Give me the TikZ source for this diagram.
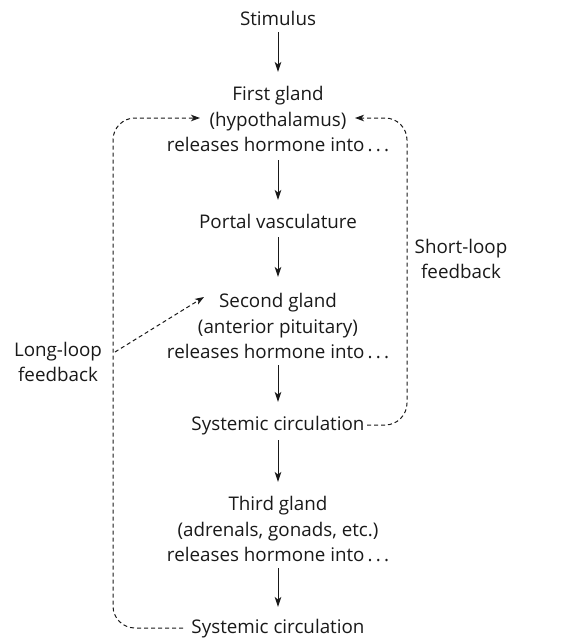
\documentclass[tikz,border=0pt]{standalone}
\usepackage{fontspec}
\setmainfont{Open Sans}
\usetikzlibrary{arrows.meta}
\begin{document}
\begin{tikzpicture}[x=1pt,y=-1pt,
  lbl/.style={align=center,inner sep=0pt,font=\fontsize{18.8}{25.5}\selectfont,text=black!90},
  arr/.style={draw=black!90,line width=1pt,-{Stealth[length=10pt,width=6.5pt,inset=2.5pt]}},
  fb/.style={draw=black!90,line width=1pt,dash pattern=on 4pt off 3pt,rounded corners=22pt},
  fbtip/.style={-{Stealth[length=9pt,width=6.5pt,inset=2.5pt]}}]
\useasboundingbox (0,0) rectangle (573,640);
\node[lbl] (stim) at (278,18) {Stimulus};
\node[lbl] (g1) at (278,119) {First gland\\(hypothalamus)\\releases hormone into\,.\,.\,.};
\node[lbl] (portal) at (278,221) {Portal vasculature};
\node[lbl] (g2) at (278,326) {Second gland\\(anterior pituitary)\\releases hormone into\,.\,.\,.};
\node[lbl] (sys1) at (278,426) {Systemic circulation};
\node[lbl] (g3) at (278,529) {Third gland\\(adrenals, gonads, etc.)\\releases hormone into\,.\,.\,.};
\node[lbl] (sys2) at (278,629) {Systemic circulation};
\node[lbl] (ll) at (58,362) {Long-loop\\feedback};
\node[lbl] (sl) at (461,259) {Short-loop\\feedback};

\coordinate (t1) at (278,32); \coordinate (h1) at (278,72);
\coordinate (t2) at (278,160); \coordinate (h2) at (278,200);
\coordinate (t3) at (278,237); \coordinate (h3) at (278,277);
\coordinate (t4) at (278,365); \coordinate (h4) at (278,402);
\coordinate (t5) at (278,440); \coordinate (h5) at (278,482);
\coordinate (t6) at (278,568); \coordinate (h6) at (278,607);
\draw[arr] (t1) -- (h1);
\draw[arr] (t2) -- (h2);
\draw[arr] (t3) -- (h3);
\draw[arr] (t4) -- (h4);
\draw[arr] (t5) -- (h5);
\draw[arr] (t6) -- (h6);

\coordinate (l0) at (183,628);
\coordinate (l1) at (200,118);
\coordinate (r0) at (367,425);
\coordinate (r1) at (355,118);
\coordinate (ls) at (115,352);
\coordinate (le) at (204,297);
\draw[fb,fbtip] (l0) -- (113,628) -- (113,118) -- (l1);
\draw[fb,fbtip] (r0) -- (407,425) -- (407,118) -- (r1);
\draw[fb,rounded corners=0pt,fbtip] (ls) -- (le);
\end{tikzpicture}
\end{document}
